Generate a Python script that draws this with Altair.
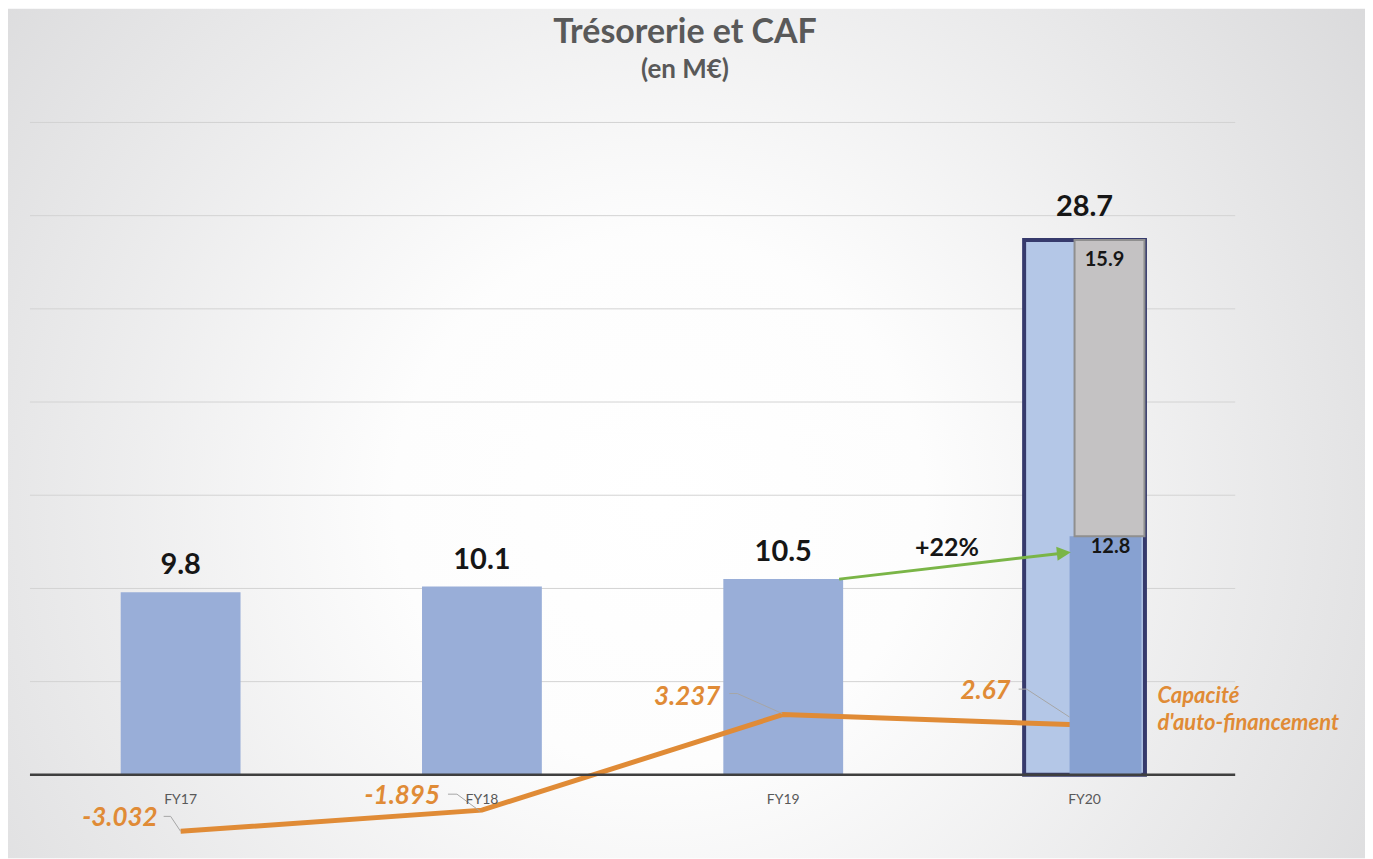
import altair as alt
import pandas as pd

# ---------------- data ----------------
categories = ["FY17", "FY18", "FY19", "FY20"]
tresorerie = [9.8, 10.1, 10.5, 28.7]
fy20_split = [12.8, 15.9]          # FY20 treasury: bottom part, top part
caf = [-3.032, -1.895, 3.237, 2.67]
grid_values = [5, 10, 15, 20, 25, 30, 35]
growth_label = "+22%"
title_text = "Trésorerie et CAF"
subtitle_text = "(en M€)"
caf_name = "Capacité\nd'auto-financement"

# ---------------- layout / style ----------------
W, H = 1207, 728
Y_DOMAIN = [-4, 35]
FONT = "Lato"
ORANGE = "#E08B36"
GREEN = "#7AB547"

y_scale = alt.Scale(domain=Y_DOMAIN, nice=False, zero=False)
x_enc = alt.X(
    "cat:N",
    scale=alt.Scale(domain=categories, paddingInner=0, paddingOuter=0),
    sort=categories,
    title=None,
    axis=alt.Axis(
        orient="bottom", offset=-75, domain=False, ticks=False, tickSize=0, grid=False,
        labelFont=FONT, labelFontSize=14, labelColor="#595959", labelPadding=18,
        labelAngle=0, zindex=1,
    ),
)

bar_df = pd.DataFrame({"cat": categories, "val": tresorerie,
                       "label": [str(v) for v in tresorerie]})
split_df = pd.DataFrame({
    "cat": ["FY20", "FY20"],
    "start": [0, fy20_split[0]],
    "end": [fy20_split[0], fy20_split[0] + fy20_split[1]],
    "label": [str(v) for v in fy20_split],
})
caf_df = pd.DataFrame({"cat": categories, "caf": caf, "label": [str(v) for v in caf]})
one = pd.DataFrame({"k": [0]})

# background radial gradient
bg = alt.Chart(one).mark_rect(
    fill=alt.RadialGradient(
        gradient="radial",
        stops=[alt.GradientStop(offset=0, color="#ffffff"),
               alt.GradientStop(offset=0.25, color="#fdfdfd"),
               alt.GradientStop(offset=1, color="#cfcfd1")],
        x1=0.48, y1=0.55, r1=0, x2=0.48, y2=0.55, r2=0.78,
    )
).encode(x=alt.value(-22), x2=alt.value(W + 130), y=alt.value(-114), y2=alt.value(H + 9))

grid = alt.Chart(pd.DataFrame({"v": grid_values})).mark_rule(
    color="#d3d3d3", strokeWidth=1
).encode(y=alt.Y("v:Q", scale=y_scale, axis=None))

bars = alt.Chart(bar_df).transform_filter("datum.cat != 'FY20'").mark_bar(
    size=120, color="#99AED8"
).encode(x=x_enc, y=alt.Y("val:Q", scale=y_scale, axis=None))

box = alt.Chart(bar_df).transform_filter("datum.cat == 'FY20'").mark_bar(
    size=121, fill="#B4C7E7", stroke="#363A6C", strokeWidth=4
).encode(x=x_enc, y=alt.Y("val:Q", scale=y_scale, axis=None))

line = alt.Chart(caf_df).mark_line(color=ORANGE, strokeWidth=5).encode(
    x=x_enc, y=alt.Y("caf:Q", scale=y_scale, axis=None)
)

dark = alt.Chart(split_df).transform_filter("datum.start == 0").mark_bar(
    size=72, xOffset=21, color="#87A1D1"
).encode(x=x_enc, y=alt.Y("start:Q", scale=y_scale, axis=None), y2="end:Q")

gray = alt.Chart(split_df).transform_filter("datum.start > 0").mark_bar(
    size=70, xOffset=25, fill="#C4C2C3", stroke="#8F8F8F", strokeWidth=2
).encode(x=x_enc, y=alt.Y("start:Q", scale=y_scale, axis=None), y2="end:Q")

baseline = alt.Chart(pd.DataFrame({"v": [0]})).mark_rule(
    color="#3F3F3F", strokeWidth=2.5
).encode(y=alt.Y("v:Q", scale=y_scale, axis=None))

bar_labels = alt.Chart(bar_df).transform_filter("datum.cat != 'FY20'").mark_text(
    font=FONT, fontSize=29, fontWeight="bold", color="#161616", dy=-18, baseline="alphabetic"
).encode(x=x_enc, y=alt.Y("val:Q", scale=y_scale, axis=None), text="label:N")

total_label = alt.Chart(bar_df).transform_filter("datum.cat == 'FY20'").mark_text(
    font=FONT, fontSize=29, fontWeight="bold", color="#161616", dy=-24, baseline="alphabetic"
).encode(x=x_enc, y=alt.Y("val:Q", scale=y_scale, axis=None), text="label:N")

top_label = alt.Chart(split_df).transform_filter("datum.start > 0").mark_text(
    font=FONT, fontSize=20, fontWeight="bold", color="#161616", dx=20, dy=26, baseline="alphabetic"
).encode(x=x_enc, y=alt.Y("end:Q", scale=y_scale, axis=None), text="label:N")

bottom_label = alt.Chart(split_df).transform_filter("datum.start == 0").mark_text(
    font=FONT, fontSize=20, fontWeight="bold", color="#161616", dx=26, dy=17, baseline="alphabetic"
).encode(x=x_enc, y=alt.Y("end:Q", scale=y_scale, axis=None), text="label:N")

# CAF data labels with leader lines (offsets in px relative to each point)
caf_label_style = {
    "FY17": (-23, -5, "M -17 -15 L -10 -15 L 0 0"),
    "FY18": (-42, -6, "M -34 -16 L -25 -16 L -2 1"),
    "FY19": (-63, -10, "M -54 -21 L -46 -21 L -1 -1"),
    "FY20": (-74, -26, "M -66 -36 L -58 -36 L -15 -8"),
}
caf_layers = []
for c, (dx, dy, path) in caf_label_style.items():
    base = alt.Chart(caf_df).transform_filter(alt.datum.cat == c)
    caf_layers.append(base.mark_point(
        shape=path, size=4, filled=False, stroke="#A6A6A6", strokeWidth=1, opacity=1
    ).encode(x=x_enc, y=alt.Y("caf:Q", scale=y_scale, axis=None)))
    caf_layers.append(base.mark_text(
        font=FONT, fontSize=26, fontWeight="bold", fontStyle="italic", color=ORANGE,
        align="right", baseline="alphabetic", dx=dx, dy=dy
    ).encode(x=x_enc, y=alt.Y("caf:Q", scale=y_scale, axis=None), text="label:N"))

# line name
caf_title = alt.Chart(caf_df.assign(name=caf_name)).transform_filter("datum.cat == 'FY20'").mark_text(
    font=FONT, fontSize=22, fontWeight="bold", fontStyle="italic", color=ORANGE,
    align="left", baseline="alphabetic", dx=73, dy=-22, lineBreak="\n", lineHeight=27
).encode(x=x_enc, y=alt.Y("caf:Q", scale=y_scale, axis=None), text="name:N")

# growth arrow from FY19 bar to FY20 bar
arrow_base = alt.Chart(bar_df.assign(g=growth_label)).transform_filter("datum.cat == 'FY19'")
arrow_shaft = arrow_base.mark_point(
    shape="M 56 0 L 275 -25.5", size=4, filled=False, stroke=GREEN, strokeWidth=3, opacity=1
).encode(x=x_enc, y=alt.Y("val:Q", scale=y_scale, axis=None))
arrow_head = arrow_base.mark_point(
    shape="M 288 -27 L 273.4 -32.5 L 274.8 -18.5 Z", size=4, filled=True, fill=GREEN,
    strokeWidth=0, opacity=1
).encode(x=x_enc, y=alt.Y("val:Q", scale=y_scale, axis=None))
growth_text = arrow_base.mark_text(
    font=FONT, fontSize=25, fontWeight="bold", color="#161616", dx=164, dy=-23,
    baseline="alphabetic"
).encode(x=x_enc, y=alt.Y("val:Q", scale=y_scale, axis=None), text="g:N")

# titles
title = alt.Chart(pd.DataFrame({"t": [title_text]})).mark_text(
    font=FONT, fontSize=34, fontWeight="bold", color="#595959", baseline="alphabetic"
).encode(x=alt.value(656), y=alt.value(-80), text="t:N")
subtitle = alt.Chart(pd.DataFrame({"t": [subtitle_text]})).mark_text(
    font=FONT, fontSize=26, fontWeight="bold", color="#595959", baseline="alphabetic"
).encode(x=alt.value(656), y=alt.value(-45), text="t:N")

chart = alt.layer(
    bg, grid, bars, box, line, dark, gray, baseline,
    bar_labels, total_label, top_label, bottom_label,
    *caf_layers, caf_title, arrow_shaft, arrow_head, growth_text, title, subtitle,
).properties(
    width=W, height=H,
    autosize=alt.AutoSizeParams(type="none"),
    padding={"left": 22, "top": 114, "right": 130, "bottom": 9},
).configure_view(stroke=None).configure(background="white")

chart.save("out.html", embed_options={"renderer": "svg", "actions": False})
